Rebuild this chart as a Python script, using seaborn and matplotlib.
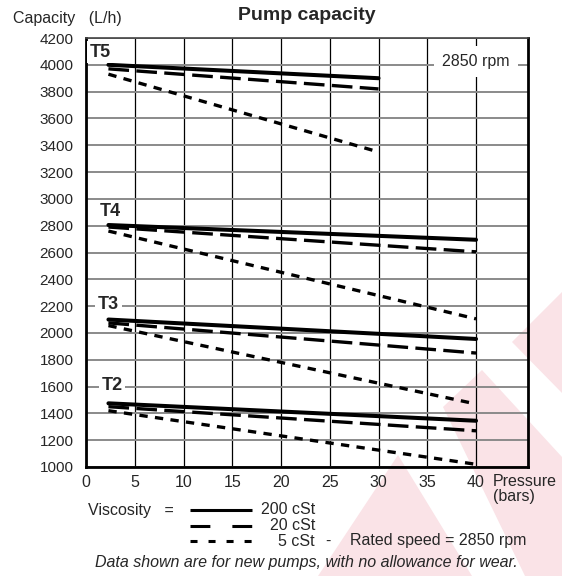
import pandas as pd
import matplotlib.pyplot as plt
import seaborn as sns
from matplotlib.lines import Line2D
from matplotlib.patches import Polygon

# data (capacity in L/h at start / end pressure)
pumps = ['T5', 'T4', 'T3', 'T2']
viscosities = ['200 cSt', '20 cSt', '5 cSt']
p_start = 2.3
p_end = [30, 40, 40, 40]
t5_start = [4000, 3970, 3930]
t5_end = [3900, 3820, 3350]
t4_start = [2805, 2790, 2760]
t4_end = [2695, 2605, 2105]
t3_start = [2100, 2075, 2055]
t3_end = [1955, 1850, 1470]
t2_start = [1475, 1450, 1420]
t2_end = [1345, 1270, 1020]
label_pos = {'T5': (0.4, 4095), 'T4': (1.4, 2905), 'T3': (1.2, 2215), 'T2': (1.6, 1610)}
x_ticks = [0, 5, 10, 15, 20, 25, 30, 35, 40]
y_ticks = list(range(1000, 4201, 200))

starts = [t5_start, t4_start, t3_start, t2_start]
ends = [t5_end, t4_end, t3_end, t2_end]
rows = []
for i, pump in enumerate(pumps):
    for j, visc in enumerate(viscosities):
        rows.append({'pump': pump, 'viscosity': visc, 'pressure': p_start, 'capacity': starts[i][j]})
        rows.append({'pump': pump, 'viscosity': visc, 'pressure': p_end[i], 'capacity': ends[i][j]})
df = pd.DataFrame(rows)

sns.set_style('white')
plt.rcParams['font.family'] = ['Liberation Sans', 'DejaVu Sans']

W, H = 562, 576
fig = plt.figure(figsize=(W / 100, H / 100), dpi=100)

def fx(px):
    return px / W

def fy(py):
    return 1 - py / H

# faint watermark behind everything
wm = '#fae3e7'
for pts in [[(512, 342), (562, 292), (562, 393)],
            [(443, 407), (482, 370), (562, 457), (562, 576), (525, 576)],
            [(318, 576), (398, 455), (472, 576)]]:
    fig.add_artist(Polygon([(fx(a), fy(b)) for a, b in pts], closed=True,
                           transform=fig.transFigure, color=wm, lw=0, zorder=-1))

ax = fig.add_axes([fx(86), fy(467), fx(528) - fx(86), fy(38) - fy(467)])
ax.patch.set_alpha(0)

sns.lineplot(data=df, x='pressure', y='capacity', style='viscosity', units='pump',
             estimator=None, sort=False, color='black', linewidth=2.4, legend=False,
             dashes={'200 cSt': '', '20 cSt': (6.2, 2.2), '5 cSt': (2.5, 2.2)}, ax=ax)
# the solid lines are a touch heavier
for ln in ax.lines:
    if ln.get_linestyle() == '-':
        ln.set_linewidth(2.9)

ax.set_xlim(0, 45.33)
ax.set_ylim(1000, 4200)
ax.set_xticks(x_ticks)
ax.set_yticks(y_ticks)
ax.set_xlabel('')
ax.set_ylabel('')
ax.grid(axis='y', color='#8a8a8a', lw=1.4, zorder=0)
ax.grid(axis='x', color='black', lw=0.9, zorder=0)
ax.set_axisbelow(True)
ax.tick_params(axis='y', length=3, color='#8a8a8a', width=1.2, pad=6, labelsize=11)
ax.tick_params(axis='x', length=0, pad=6, labelsize=11.5)
for side in ['left', 'bottom', 'right']:
    ax.spines[side].set_linewidth(2.0)
    ax.spines[side].set_color('black')
ax.spines['top'].set_linewidth(1.2)
ax.spines['top'].set_color('#444444')

for pump in pumps:
    x, y = label_pos[pump]
    ax.text(x, y, pump, fontsize=13, fontweight='bold', ha='left', va='center', zorder=5,
            bbox=dict(facecolor='white', edgecolor='none', pad=2))

ax.text(40, 4025, '2850 rpm', fontsize=11.5, ha='center', va='center', zorder=5,
        bbox=dict(facecolor='white', edgecolor='none', pad=6))

ax.set_title('Pump capacity', fontsize=14, fontweight='bold', pad=13)
fig.text(fx(13), fy(18), 'Capacity   (L/h)', fontsize=11.5, va='center', ha='left')
fig.text(fx(493), fy(489), 'Pressure\n(bars)', fontsize=11.5, va='center', ha='left',
         multialignment='left', linespacing=1.0)

# viscosity key under the axis
fig.text(fx(88), fy(510), 'Viscosity   =', fontsize=11.5, va='center', ha='left')
key = [('200 cSt', None, 510), ('20 cSt', (6.5, 7.2), 526), ('5 cSt', (2.3, 3.6), 541)]
for lab, dash, py in key:
    ln = Line2D([fx(190), fx(252)], [fy(py), fy(py)], transform=fig.transFigure,
                color='black', lw=2.2, solid_capstyle='butt')
    if dash:
        ln.set_dashes(dash)
    fig.add_artist(ln)
    fig.text(fx(315), fy(py), lab, fontsize=11.5, va='center', ha='right')
fig.text(fx(328), fy(541), '-', fontsize=11.5, va='center', ha='center')
fig.text(fx(350), fy(541), 'Rated speed = 2850 rpm', fontsize=11.5, va='center', ha='left')
fig.text(fx(306), fy(563), 'Data shown are for new pumps, with no allowance for wear.',
         fontsize=11.5, style='italic', va='center', ha='center')

fig.savefig('out.png', dpi=100)
